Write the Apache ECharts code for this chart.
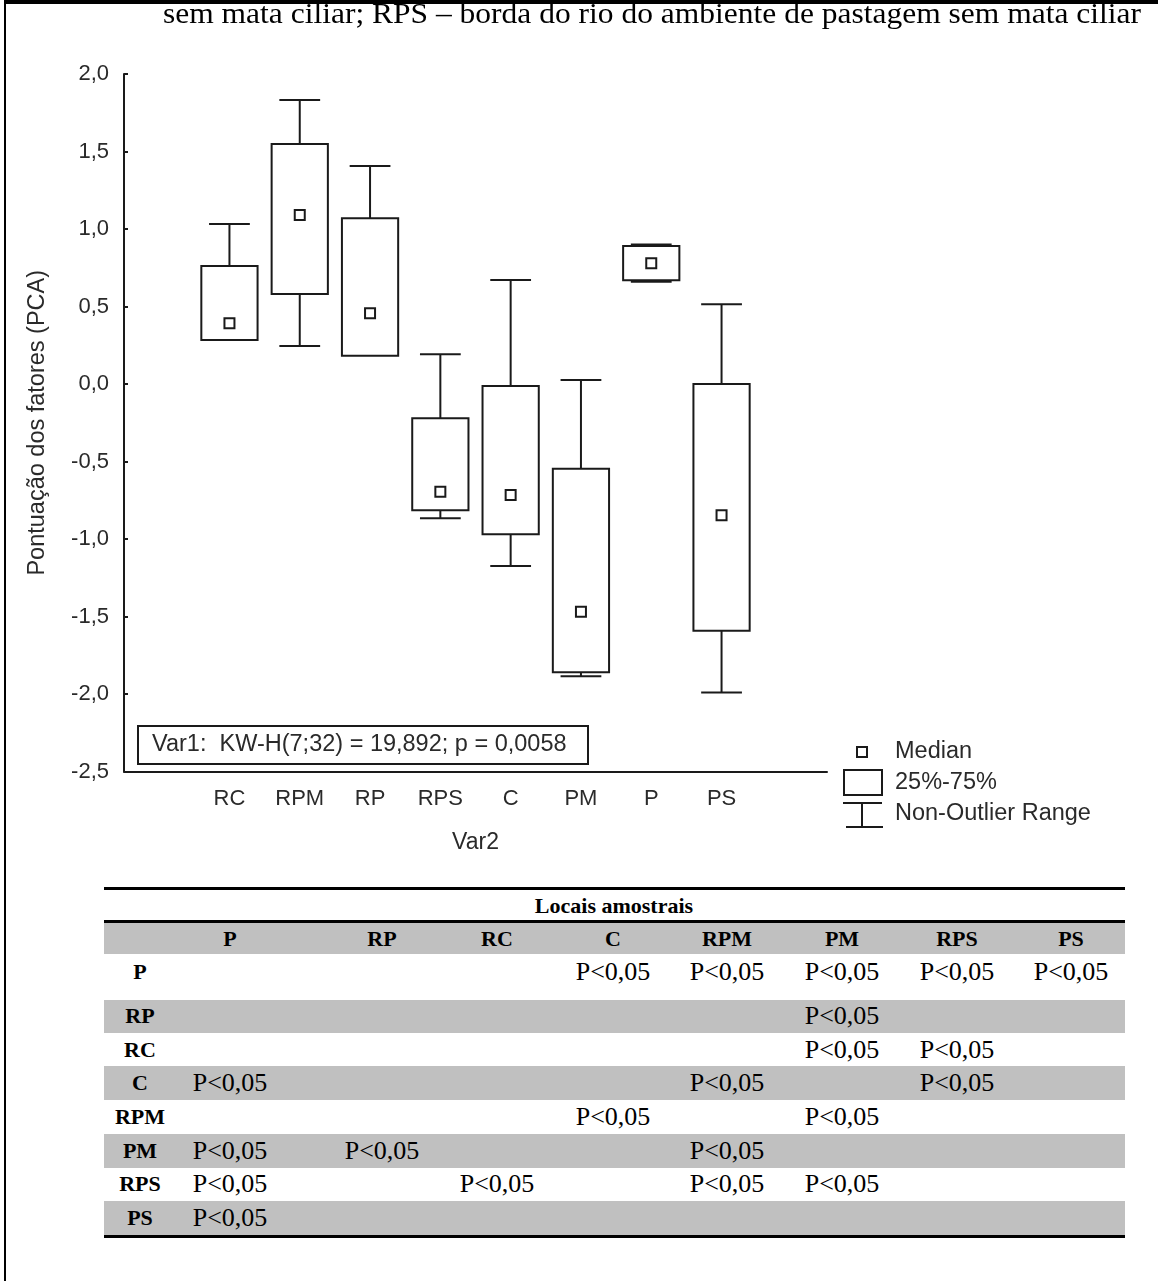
<!DOCTYPE html>
<html><head><meta charset="utf-8">
<script src="https://cdn.jsdelivr.net/npm/echarts/dist/echarts.min.js"></script>
<style>
html,body{margin:0;padding:0;background:#fff;}
#page{position:relative;width:1158px;height:1281px;overflow:hidden;background:#fff;}
#chart{position:absolute;left:0;top:0;width:1158px;height:880px;}
.ln{position:absolute;background:#000;}
.band{position:absolute;background:#c0c0c0;}
.tx{position:absolute;font-family:"Liberation Serif","Times New Roman",serif;color:#000;white-space:nowrap;line-height:1;transform:translate(-50%,-50%);}
.b{font-weight:bold;font-size:22px;}
.v{font-size:26px;}
#cap{position:absolute;left:163px;top:-1px;font-family:"Liberation Serif","Times New Roman",serif;font-size:29px;line-height:1;white-space:nowrap;transform-origin:0 0;color:#000;}
</style>
</head><body>
<div id="page">
  <div id="chart"></div>
  <div id="cap">sem mata ciliar; RPS – borda do rio do ambiente de pastagem sem mata ciliar</div>
  <div class="ln" style="left:4px;top:0;width:2px;height:1281px;"></div>
  <div class="ln" style="left:4px;top:0;width:1154px;height:4px;"></div>
  <div id="table"></div>
</div>
<script>
// ---- chart data ----
const sites   = ['RC','RPM','RP','RPS','C','PM','P','PS'];
const minVals = [0.284, 0.245, 0.183, -0.866, -1.174, -1.886, 0.660, -1.991];
const q1Vals  = [0.284, 0.581, 0.183, -0.815, -0.970, -1.860, 0.670, -1.592];
const medVals = [0.392, 1.090, 0.456, -0.695, -0.716, -1.469, 0.779, -0.847];
const q3Vals  = [0.761, 1.548, 1.069, -0.221, -0.013, -0.546, 0.890, 0.000];
const maxVals = [1.032, 1.832, 1.406, 0.192, 0.671, 0.026, 0.900, 0.514];
const xCategories = ['_l'].concat(sites, ['_r']);
const statText = 'Var1:  KW-H(7;32) = 19,892; p = 0,0058';
const legendLabels = ['Median', '25%-75%', 'Non-Outlier Range'];

// ---- table data ----
const colLabels = ['P','RP','RC','C','RPM','PM','RPS','PS'];
const rowLabels = ['P','RP','RC','C','RPM','PM','RPS','PS'];
const S = 'P<0,05';
const sigRows = [
  ['', '', '', S, S, S, S, S],
  ['', '', '', '', '', S, '', ''],
  ['', '', '', '', '', S, S, ''],
  [S, '', '', '', S, '', S, ''],
  ['', '', '', S, '', S, '', ''],
  [S, S, '', '', S, '', '', ''],
  [S, '', S, '', S, S, '', ''],
  [S, '', '', '', '', '', '', '']
];
const tableTitle = 'Locais amostrais';

const ink = '#1a1a1a';
const chart = echarts.init(document.getElementById('chart'), null, {renderer:'canvas'});

function renderItem(params, api) {
  const x = api.value(0);
  const pMin = api.coord([x, api.value(1)]);
  const pQ1 = api.coord([x, api.value(2)]);
  const pMed = api.coord([x, api.value(3)]);
  const pQ3 = api.coord([x, api.value(4)]);
  const pMax = api.coord([x, api.value(5)]);
  const band = api.size([1, 0])[0];
  const bw = band * 0.8, cw = band * 0.58;
  const cx = pMed[0];
  const ls = {stroke: ink, lineWidth: 2, fill: null};
  const ch = [];
  if (api.value(5) !== api.value(4)) {
    ch.push({type:'line', shape:{x1:cx, y1:pQ3[1], x2:cx, y2:pMax[1]}, style:ls});
    ch.push({type:'line', shape:{x1:cx-cw/2, y1:pMax[1], x2:cx+cw/2, y2:pMax[1]}, style:ls});
  }
  if (api.value(1) !== api.value(2)) {
    ch.push({type:'line', shape:{x1:cx, y1:pQ1[1], x2:cx, y2:pMin[1]}, style:ls});
    ch.push({type:'line', shape:{x1:cx-cw/2, y1:pMin[1], x2:cx+cw/2, y2:pMin[1]}, style:ls});
  }
  ch.push({type:'rect', shape:{x:cx-bw/2, y:pQ3[1], width:bw, height:pQ1[1]-pQ3[1]}, style:{stroke:ink, lineWidth:2, fill:'#fff'}});
  ch.push({type:'rect', shape:{x:cx-5, y:pMed[1]-5, width:10, height:10}, style:{stroke:ink, lineWidth:2, fill:'#fff'}});
  return {type:'group', children: ch};
}

const lblFont = {fontSize:22, fontFamily:'Liberation Sans, Arial, sans-serif', color:'#2a2a2a'};
const option = {
  animation:false,
  backgroundColor:'transparent',
  grid:{left:124, top:74, width:703, height:697.5},
  xAxis:{
    type:'category', data:xCategories, boundaryGap:true,
    axisLine:{onZero:false, lineStyle:{color:ink, width:2}},
    axisTick:{inside:true, length:4, alignWithLabel:true, interval:0, lineStyle:{color:ink, width:2}},
    axisLabel:Object.assign({margin:16, interval:0, formatter:v => v.charAt(0)==='_' ? '' : v}, lblFont),
    splitLine:{show:false},
    name:'Var2', nameLocation:'middle', nameGap:60,
    nameTextStyle:Object.assign({}, lblFont, {fontSize:23})
  },
  yAxis:{
    type:'value', min:-2.5, max:2.0, interval:0.5,
    axisLine:{show:true, onZero:false, lineStyle:{color:ink, width:2}},
    axisTick:{show:true, inside:true, length:4, lineStyle:{color:ink, width:2}},
    axisLabel:Object.assign({margin:15, formatter:v => v.toFixed(1).replace('.', ',')}, lblFont),
    splitLine:{show:false},
    name:'Pontuação dos fatores (PCA)', nameLocation:'middle', nameGap:74, nameRotate:90,
    nameTextStyle:Object.assign({}, lblFont, {fontSize:23.5})
  },
  series:[{
    type:'custom', renderItem:renderItem,
    encode:{x:0, y:[1,2,3,4,5]},
    data: sites.map((s, i) => [s, minVals[i], q1Vals[i], medVals[i], q3Vals[i], maxVals[i]])
  }],
  graphic:[
    {type:'rect', shape:{x:138, y:726, width:450, height:38}, style:{stroke:ink, lineWidth:2, fill:'#fff'}, z:10},
    {type:'text', x:152, y:745, style:{text:statText, font:'23.5px "Liberation Sans", Arial, sans-serif', fill:'#2a2a2a', verticalAlign:'middle', align:'left'}, z:11},
    {type:'rect', shape:{x:857, y:747, width:10, height:10}, style:{stroke:ink, lineWidth:2, fill:'#fff'}},
    {type:'rect', shape:{x:844, y:770, width:38, height:25}, style:{stroke:ink, lineWidth:2, fill:'#fff'}},
    {type:'line', shape:{x1:843, y1:803, x2:882, y2:803}, style:{stroke:ink, lineWidth:2}},
    {type:'line', shape:{x1:862, y1:803, x2:862, y2:827}, style:{stroke:ink, lineWidth:2}},
    {type:'line', shape:{x1:846, y1:827, x2:883, y2:827}, style:{stroke:ink, lineWidth:2}},
    {type:'text', x:895, y:752, style:{text:legendLabels[0], font:'23.5px "Liberation Sans", Arial, sans-serif', fill:'#2a2a2a', verticalAlign:'middle'}},
    {type:'text', x:895, y:783, style:{text:legendLabels[1], font:'23.5px "Liberation Sans", Arial, sans-serif', fill:'#2a2a2a', verticalAlign:'middle'}},
    {type:'text', x:895, y:814, style:{text:legendLabels[2], font:'23.5px "Liberation Sans", Arial, sans-serif', fill:'#2a2a2a', verticalAlign:'middle'}}
  ]
};
chart.setOption(option);

// ---- caption fit ----
(function(){
  const cap = document.getElementById('cap');
  const w = cap.getBoundingClientRect().width;
  cap.style.transform = 'scaleX(' + (978 / w) + ')';
})();

// ---- table ----
(function(){
  const T = document.getElementById('table');
  const left = 104, right = 1125;
  const colX = [140, 230, 382, 497, 613, 727, 842, 957, 1071];
  const rows = [[954,1000],[1000,1033],[1033,1066],[1066,1100],[1100,1134],[1134,1168],[1168,1201],[1201,1235]];
  const rowTextY = [972, 1016, 1050, 1083, 1117, 1151, 1184, 1218];
  let h = '';
  const line = (y, t) => `<div class="ln" style="left:${left}px;top:${y}px;width:${right-left}px;height:${t}px;"></div>`;
  const band = (y1, y2) => `<div class="band" style="left:${left}px;top:${y1}px;width:${right-left}px;height:${y2-y1}px;"></div>`;
  const txt = (x, y, s, cls) => `<div class="tx ${cls}" style="left:${x}px;top:${y}px;">${s.replace('<','&lt;')}</div>`;
  h += band(923, 954);
  rows.forEach((r, i) => { if (i % 2 === 1) h += band(r[0], r[1]); });
  h += line(887, 3) + line(920, 3) + line(1235, 3);
  h += txt(614, 906, tableTitle, 'b');
  colLabels.forEach((c, j) => { h += txt(colX[j+1], 939, c, 'b'); });
  rowLabels.forEach((r, i) => {
    h += txt(colX[0], rowTextY[i], r, 'b');
    sigRows[i].forEach((v, j) => { if (v) h += txt(colX[j+1], rowTextY[i], v, 'v'); });
  });
  T.innerHTML = h;
})();
</script>
</body></html>
